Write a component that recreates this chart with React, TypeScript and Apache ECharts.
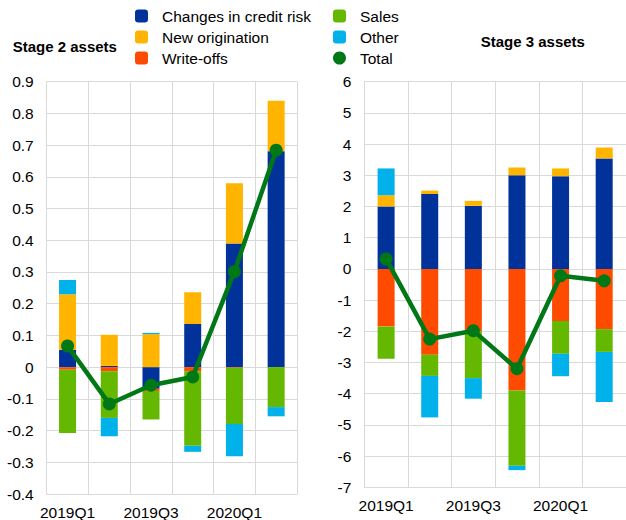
import React, { useEffect, useRef } from "react";
import * as echarts from "echarts";

const categories = ["2019Q1", "2019Q2", "2019Q3", "2019Q4", "2020Q1", "2020Q2"];

// Stage 2 assets
const s2Credit = [0.055, 0.004, -0.068, 0.136, 0.39, 0.681];
const s2Orig = [0.175, 0.098, 0.104, 0.1, 0.19, 0.159];
const s2WriteOffs = [-0.008, -0.013, -0.007, -0.013, -0.002, 0];
const s2Sales = [-0.2, -0.147, -0.09, -0.235, -0.177, -0.126];
const s2Other = [0.045, -0.058, 0.004, -0.019, -0.102, -0.029];
const s2Total = [0.067, -0.116, -0.057, -0.031, 0.301, 0.684];

// Stage 3 assets
const s3Credit = [2.0, 2.4, 2.02, 3.0, 2.97, 3.54];
const s3Orig = [0.36, 0.11, 0.16, 0.25, 0.25, 0.35];
const s3WriteOffs = [-1.85, -2.75, -2.0, -3.9, -1.67, -1.93];
const s3Sales = [-1.03, -0.68, -1.5, -2.41, -1.05, -0.73];
const s3Other = [0.86, -1.33, -0.66, -0.14, -0.72, -1.61];
const s3Total = [0.32, -2.25, -1.98, -3.2, -0.22, -0.38];

const names = ["Changes in credit risk", "New origination", "Write-offs", "Sales", "Other", "Total"];
const colors = ["#003299", "#FFB400", "#FF4B00", "#65B800", "#00B1EA", "#007816"];

const FONT = "'Liberation Sans', Arial, sans-serif";
const GRID = "#d9d9d9";

export default function App() {
  const ref = useRef<HTMLDivElement>(null);
  useEffect(() => {
    if (!ref.current) return;
    const chart = echarts.init(ref.current, null, { renderer: "svg" });

    const barSeries = (idx: number, stack: string, data: number[][]) =>
      [0, 1, 2, 3, 4].map((i) => ({
        name: names[i],
        type: "bar",
        stack,
        xAxisIndex: idx,
        yAxisIndex: idx,
        barWidth: 17,
        itemStyle: { color: colors[i] },
        data: data[i],
      }));
    const lineSeries = (idx: number, data: number[]) => ({
      name: names[5],
      type: "line",
      xAxisIndex: idx,
      yAxisIndex: idx,
      symbol: "circle",
      symbolSize: 13,
      lineStyle: { width: 4.5, color: colors[5] },
      itemStyle: { color: colors[5] },
      z: 5,
      data,
    });

    const xAxis = (idx: number, margin: number) => ({
      type: "category",
      gridIndex: idx,
      data: categories,
      boundaryGap: true,
      axisLine: { show: true, onZero: false, lineStyle: { color: GRID, width: 1 } },
      axisTick: { show: false },
      splitLine: { show: true, interval: 0, lineStyle: { color: GRID, width: 1 } },
      axisLabel: { interval: 1, margin, color: "#000", fontSize: 15.5, fontFamily: FONT },
    });
    const yAxis = (idx: number, min: number, max: number, interval: number, fmt: (v: number) => string) => ({
      type: "value",
      gridIndex: idx,
      min,
      max,
      interval,
      axisLine: { show: true, lineStyle: { color: GRID, width: 1 } },
      axisTick: { show: false },
      splitLine: { show: true, lineStyle: { color: GRID, width: 1 } },
      axisLabel: { margin: 13, color: "#000", fontSize: 15.5, fontFamily: FONT, formatter: fmt },
    });

    const legendCommon = {
      orient: "vertical",
      top: 8,
      itemWidth: 13,
      itemHeight: 13,
      itemGap: 5,
      padding: 0,
      selectedMode: false,
      textStyle: { fontSize: 15.5, color: "#000", fontFamily: FONT, padding: [0, 0, 0, 9] },
    };

    chart.setOption({
      animation: false,
      backgroundColor: "#fff",
      legend: [
        { ...legendCommon, left: 135, data: names.slice(0, 3) },
        { ...legendCommon, left: 333, data: ["Sales", "Other", { name: "Total", icon: "circle" }] },
      ],
      graphic: [
        { type: "text", left: 12.7, top: 39, style: { text: "Stage 2 assets", font: `bold 15px ${FONT}`, fill: "#000" } },
        { type: "text", left: 480.7, top: 34, style: { text: "Stage 3 assets", font: `bold 15px ${FONT}`, fill: "#000" } },
      ],
      grid: [
        { left: 46.7, top: 81.7, width: 250.3, height: 413.3 },
        { left: 364.3, top: 81.7, width: 264, height: 405.6 },
      ],
      xAxis: [xAxis(0, 10), xAxis(1, 10)],
      yAxis: [
        yAxis(0, -0.4, 0.9, 0.1, (v: number) => {
          const r = Math.round(v * 10) / 10;
          return r === 0 ? "0" : r.toFixed(1);
        }),
        yAxis(1, -7, 6, 1, (v: number) => String(Math.round(v))),
      ],
      series: [
        ...barSeries(0, "s2", [s2Credit, s2Orig, s2WriteOffs, s2Sales, s2Other]),
        lineSeries(0, s2Total),
        ...barSeries(1, "s3", [s3Credit, s3Orig, s3WriteOffs, s3Sales, s3Other]),
        lineSeries(1, s3Total),
      ],
    });
    return () => chart.dispose();
  }, []);
  return (
    <div
      ref={ref}
      style={{ position: "fixed", left: 0, top: 0, width: 626, height: 520, background: "#fff" }}
    />
  );
}
